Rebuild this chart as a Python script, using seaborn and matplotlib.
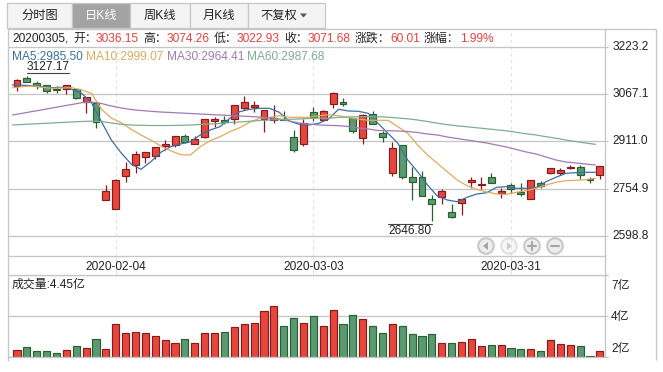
import pandas as pd
import matplotlib
matplotlib.use('Agg')
import matplotlib.pyplot as plt
from matplotlib.patches import Rectangle, Circle, Polygon
import seaborn as sns

# Daily index candles, 60 sessions
opens = [3094.4, 3120.8, 3102.6, 3096.0, 3084.4, 3082.8, 3084.4, 3041.5, 3039.2, 2716.7,
         2687.0, 2796.0, 2832.3, 2858.8, 2862.1, 2895.1, 2898.4, 2928.2, 2901.7, 2926.8,
         2979.7, 2982.0, 2984.3, 3022.7, 3026.0, 2984.3, 2981.0, 2984.3, 2924.9, 2901.7,
         3007.5, 2981.0, 3036.15, 3040.5, 2988.6, 2921.5, 3000.9, 2938.1, 2805.9, 2898.4,
         2795.3, 2792.7, 2720.0, 2728.6, 2677.1, 2706.8, 2777.2, 2767.3, 2792.7, 2739.8,
         2768.3, 2744.1, 2722.0, 2772.9, 2807.9, 2807.9, 2823.4, 2827.7, 2787.1, 2799.3]
closes = [3115.8, 3105.9, 3094.4, 3076.2, 3081.1, 3096.0, 3053.1, 3059.0, 2976.4, 2747.4,
          2782.8, 2819.1, 2868.7, 2875.3, 2891.8, 2902.7, 2928.2, 2908.3, 2918.3, 2984.3,
          2985.3, 2976.4, 3030.6, 3040.5, 3031.6, 3014.1, 2988.6, 2982.0, 2881.9, 2972.1,
          2992.0, 3010.8, 3071.68, 3035.9, 2944.7, 2997.5, 2967.8, 2926.8, 2888.5, 2792.7,
          2778.2, 2729.9, 2703.5, 2746.4, 2660.5, 2722.0, 2783.8, 2771.6, 2772.9, 2746.4,
          2753.0, 2736.5, 2782.8, 2765.0, 2822.4, 2816.8, 2827.7, 2799.3, 2784.8, 2829.0]
highs = [3116.0, 3127.17, 3110.9, 3096.0, 3094.4, 3096.0, 3084.4, 3059.0, 3039.2, 2767.3,
         2787.1, 2842.3, 2879.6, 2875.3, 2891.8, 2916.0, 2928.2, 2935.8, 2929.2, 2984.3,
         2991.9, 2996.2, 3030.6, 3061.3, 3044.8, 3014.1, 3031.6, 3011.8, 2948.0, 2984.3,
         3026.0, 3015.1, 3074.26, 3053.7, 2988.6, 3000.9, 3011.8, 2945.7, 2910.3, 2898.4,
         2827.7, 2814.5, 2734.2, 2753.0, 2703.5, 2722.0, 2792.7, 2792.7, 2805.9, 2756.4,
         2772.9, 2772.9, 2782.8, 2781.5, 2822.4, 2822.4, 2833.3, 2833.3, 2794.7, 2829.0]
lows = [3076.2, 3105.9, 3084.4, 3071.2, 3071.2, 3067.9, 3049.8, 3006.1, 2955.6, 2716.7,
        2687.0, 2778.2, 2807.9, 2838.9, 2852.2, 2882.9, 2893.8, 2906.0, 2901.7, 2923.5,
        2959.9, 2967.8, 2967.8, 3015.1, 3007.5, 2943.4, 2973.1, 2982.0, 2877.3, 2897.1,
        2978.7, 2981.0, 3022.93, 3029.3, 2940.1, 2903.7, 2967.8, 2908.3, 2798.0, 2787.1,
        2717.7, 2729.9, 2646.80, 2704.5, 2657.2, 2668.1, 2758.3, 2753.0, 2772.9, 2723.3,
        2741.8, 2730.9, 2720.0, 2756.4, 2802.6, 2800.3, 2821.1, 2788.1, 2774.9, 2788.1]
volumes = [2.39, 2.58, 2.33, 2.33, 2.21, 2.39, 2.64, 2.51, 3.07, 2.45,
           4.00, 3.44, 3.50, 3.44, 3.26, 3.01, 2.82, 3.07, 2.82, 3.44,
           3.44, 3.50, 3.81, 4.00, 4.06, 4.80, 5.11, 3.87, 4.37, 4.06,
           4.49, 3.87, 4.86, 4.00, 4.55, 4.30, 3.87, 3.44, 4.00, 3.87,
           3.38, 3.26, 3.38, 2.82, 2.82, 2.88, 3.07, 2.64, 2.70, 2.70,
           2.51, 2.45, 2.45, 2.33, 3.01, 2.76, 2.70, 2.64, 2.02, 2.33]
ma5 = [3097.7, 3096.7, 3095.3, 3092.0, 3088.7, 3090.1, 3083.5, 3070.2, 3038.2, 2976.4,
       2915.9, 2873.0, 2836.6, 2819.1, 2844.3, 2875.3, 2893.8, 2902.7, 2910.3, 2932.5,
       2949.0, 2959.9, 2987.6, 3009.5, 3017.4, 3020.7, 3020.7, 3007.5, 2978.7, 2967.8,
       2965.5, 2971.1, 2985.50, 3017.4, 3011.8, 3010.8, 3004.2, 2971.1, 2938.1, 2905.0,
       2849.9, 2811.2, 2767.3, 2730.9, 2717.7, 2712.1, 2726.6, 2737.5, 2741.8, 2759.7,
       2761.6, 2756.4, 2756.4, 2758.3, 2778.2, 2792.7, 2805.9, 2807.9, 2809.2, 2809.2]
ma10 = [3088.7, 3092.0, 3094.4, 3090.1, 3086.8, 3087.8, 3088.7, 3081.1, 3070.2, 3017.4,
        2988.6, 2973.1, 2951.3, 2932.5, 2915.9, 2896.1, 2880.6, 2867.4, 2866.4, 2893.8,
        2913.6, 2926.8, 2943.4, 2956.6, 2974.4, 2987.6, 2990.9, 2996.2, 2990.9, 2990.9,
        2990.9, 2996.2, 2999.07, 2996.2, 2989.6, 2985.3, 2981.0, 2981.0, 2981.0, 2959.9,
        2938.1, 2899.4, 2866.4, 2838.9, 2811.2, 2783.8, 2765.0, 2753.0, 2744.1, 2737.5,
        2736.5, 2743.1, 2748.4, 2756.4, 2767.3, 2776.2, 2781.5, 2782.8, 2784.8, 2789.4]
ma30 = [2998.5, 3004.2, 3010.1, 3015.7, 3021.7, 3027.6, 3033.2, 3039.2, 3041.5, 3036.5,
        3028.3, 3021.7, 3016.7, 3013.4, 3010.8, 3008.4, 3006.8, 3005.1, 3003.5, 3001.8,
        3000.2, 2998.5, 2996.9, 2995.2, 2993.6, 2991.9, 2989.3, 2985.3, 2978.7, 2972.1,
        2968.8, 2965.5, 2964.41, 2963.2, 2960.5, 2955.6, 2952.3, 2947.3, 2946.7, 2945.7,
        2944.0, 2940.7, 2935.8, 2932.5, 2925.9, 2920.9, 2915.9, 2911.0, 2906.0, 2899.4,
        2892.8, 2884.5, 2876.3, 2869.7, 2859.8, 2849.9, 2843.3, 2840.0, 2836.6, 2833.3]
ma60 = [2965.5, 2967.2, 2968.8, 2970.5, 2972.1, 2973.8, 2975.4, 2977.1, 2978.1, 2977.1,
        2972.1, 2967.8, 2965.5, 2964.5, 2963.8, 2963.8, 2963.8, 2964.5, 2965.5, 2967.2,
        2968.8, 2970.5, 2973.8, 2975.4, 2977.7, 2980.4, 2982.0, 2983.0, 2984.3, 2985.3,
        2987.0, 2988.6, 2987.68, 2990.9, 2992.0, 2992.9, 2992.9, 2992.9, 2991.3, 2988.6,
        2986.0, 2982.0, 2977.1, 2971.5, 2966.5, 2962.9, 2959.6, 2956.3, 2952.9, 2949.6,
        2946.3, 2941.4, 2936.4, 2932.5, 2926.8, 2921.9, 2915.9, 2911.0, 2906.0, 2901.7]
price_ticks = [3223.2, 3067.1, 2911.0, 2754.9, 2598.8]
price_labels = ['3223.2', '3067.1', '2911.0', '2754.9', '2598.8']
date_pos = [10, 30, 50]
date_labels = ['2020-02-04', '2020-03-03', '2020-03-31']
vol_ticks = [2, 4.5, 7]
vol_labels = ['2亿', '4亿', '7亿']

W, H = 663, 372
RED, RED_DK = '#e7463c', '#861a1c'
GREEN, GREEN_DK = '#5a9a72', '#2a5f2e'
LINE = '#c6c6c6'
TXT = '#222222'
MA_COLORS = {'ma5': '#3a6fa3', 'ma10': '#e3a95c', 'ma30': '#a07ab4', 'ma60': '#7cae90'}

sns.set_theme(style='white')
plt.rcParams['font.family'] = ['Liberation Sans', 'Noto Sans CJK SC']
FS = 8.6

df = pd.DataFrame({'idx': range(60), 'open': opens, 'close': closes, 'high': highs, 'low': lows,
                   'volume': volumes, 'ma5': ma5, 'ma10': ma10, 'ma30': ma30, 'ma60': ma60})
df['up'] = df['close'] >= df['open']
df['x_ma'] = df['idx'] - 0.45

fig = plt.figure(figsize=(W / 100, H / 100), dpi=100, facecolor='white')


def pane(x0, y0, x1, y1):
    return fig.add_axes([x0 / W, 1 - y1 / H, (x1 - x0) / W, (y1 - y0) / H])


# Price pane
ax = pane(7.5, 28.5, 605.3, 256)
for up, c, e in [(True, RED, RED_DK), (False, GREEN, GREEN_DK)]:
    d = df[df['up'] == up]
    ax.vlines(d['idx'], d['low'], d['high'], color=e, lw=0.9, zorder=3)
    ax.bar(d['idx'], d['close'] - d['open'], bottom=d['open'], width=0.7,
           color=c, edgecolor=e, linewidth=0.85, zorder=4)
for name, col in MA_COLORS.items():
    sns.lineplot(data=df, x='x_ma', y=name, color=col, lw=0.9, ax=ax, zorder=5, errorbar=None)
ax.set_xlim(-0.96, 59.55)
ax.set_ylim(2532.7, 3284.3)
ax.set_xlabel('')
ax.set_ylabel('')
ax.yaxis.tick_right()
ax.set_yticks(price_ticks, price_labels)
ax.set_xticks(date_pos, date_labels)
ax.grid(axis='y', color=LINE, lw=0.95)
ax.grid(axis='x', color='#e2e2e2', lw=0.8, ls=(0, (3, 3)))
ax.tick_params(axis='y', length=2.5, width=0.9, color=LINE, pad=2.5, labelsize=FS, labelcolor=TXT, right=True)
ax.tick_params(axis='x', length=14, width=0.8, color='#e2e2e2', pad=-10.5, labelsize=FS, labelcolor=TXT, bottom=True)
for lab in ax.get_yticklabels():
    lab.set_va('center')
sns.despine(ax=ax, left=True, right=True, top=True, bottom=True)
ax.set_axisbelow(True)

# Volume pane
vax = pane(7.5, 275, 605.3, 356.5)
for up, c, e in [(True, RED, RED_DK), (False, GREEN, GREEN_DK)]:
    sns.barplot(data=df[df['up'] == up], x='idx', y='volume', native_scale=True, width=0.72,
                color=c, edgecolor=e, linewidth=0.85, ax=vax, errorbar=None, saturation=1, zorder=3)
vax.set_xlim(-0.96, 59.55)
vax.set_ylim(2, 7)
vax.set_xlabel('')
vax.set_ylabel('')
vax.set_xticks([])
vax.yaxis.tick_right()
vax.set_yticks(vol_ticks, ['', '', ''])
vax.grid(axis='y', color=LINE, lw=0.95)
vax.set_axisbelow(True)
vax.tick_params(axis='y', length=2.5, width=0.9, color=LINE, right=True)
sns.despine(ax=vax, left=True, right=True, top=True, bottom=True)

# Page furniture in pixel coordinates
ui = fig.add_axes([0, 0, 1, 1], zorder=10)
ui.set_xlim(0, W)
ui.set_ylim(H, 0)
ui.axis('off')
ui.patch.set_alpha(0)

tabs = [('分时图', 7, 72), ('日K线', 72, 130), ('周K线', 130, 190), ('月K线', 190, 248), ('不复权', 248, 324.5)]
for i, (label, x0, x1) in enumerate(tabs):
    active = i == 1
    ui.add_patch(Rectangle((x0, 2.5), x1 - x0, 25, fc='#a3a3a3' if active else '#f4f4f4', ec=LINE, lw=0.9))
    cx = (x0 + x1) / 2 if i < 4 else 279
    ui.text(cx, 15.5, label, ha='center', va='center', fontsize=FS + 0.2, color='white' if active else TXT)
ui.add_patch(Polygon([[300, 13.5], [307, 13.5], [303.5, 17.5]], fc='#555555', ec='none'))

for xs, ys in [((7.5, 656), (28.5, 28.5)), ((7.5, 7.5), (28.5, 361)), ((605.3, 605.3), (28.5, 356.5)),
               ((656, 656), (28.5, 360)), ((7.5, 605.3), (256, 256)), ((7.5, 608), (275, 275)),
               ((7.5, 608), (356.5, 356.5))]:
    ui.plot(xs, ys, color=LINE, lw=0.95, solid_capstyle='butt', zorder=1)


def put(x, y, s, color=TXT, **kw):
    ui.text(x, y, s, color=color, fontsize=FS, va='center', ha=kw.pop('ha', 'left'), **kw)


PRICE_RED = '#e8403f'
put(12, 38.8, '20200305,')
for x, s, c in [(73, '开：', TXT), (96, '3036.15', PRICE_RED), (143, '高：', TXT), (167, '3074.26', PRICE_RED),
                (214, '低：', TXT), (237, '3022.93', PRICE_RED), (284, '收：', TXT), (308, '3071.68', PRICE_RED),
                (355, '涨跌：', TXT), (390, '60.01', PRICE_RED), (424, '涨幅：', TXT), (460, '1.99%', PRICE_RED)]:
    put(x, 38.8, s, c)
for x, s, key in [(12, 'MA5:2985.50', 'ma5'), (86, 'MA10:2999.07', 'ma10'),
                  (167, 'MA30:2964.41', 'ma30'), (247, 'MA60:2987.68', 'ma60')]:
    put(x, 56.5, s, MA_COLORS[key])

put(27, 67, '3127.17')
ui.plot([27, 69], [72.8, 72.8], color='#444444', lw=0.8)
put(388, 231.5, '2646.80')
ui.plot([388, 432], [224.3, 224.3], color='#444444', lw=0.8)
put(12, 285, '成交量:4.45亿')
for y, s in zip([349.3, 316.7, 285.7], vol_labels):
    put(611, y, s)

# Zoom and scroll buttons
for i, cx in enumerate([486, 509, 532, 555]):
    alpha = 0.5 if i == 1 else 1
    ui.add_patch(Circle((cx, 246), 7.8, fc='#eeeeee', ec='#c8c8c8', lw=1.5, alpha=alpha, zorder=6))
    glyph = '#a6a6a6'
    if i == 0:
        ui.add_patch(Polygon([[cx - 3, 246], [cx + 2, 242], [cx + 2, 250]], fc=glyph, ec='none', zorder=7))
    elif i == 1:
        ui.add_patch(Polygon([[cx + 3, 246], [cx - 2, 242], [cx - 2, 250]], fc=glyph, ec='none', alpha=0.5, zorder=7))
    else:
        ui.plot([cx - 4, cx + 4], [246, 246], color=glyph, lw=1.5, zorder=7)
        if i == 2:
            ui.plot([cx, cx], [242, 250], color=glyph, lw=1.5, zorder=7)

fig.savefig('out.png', dpi=100)
